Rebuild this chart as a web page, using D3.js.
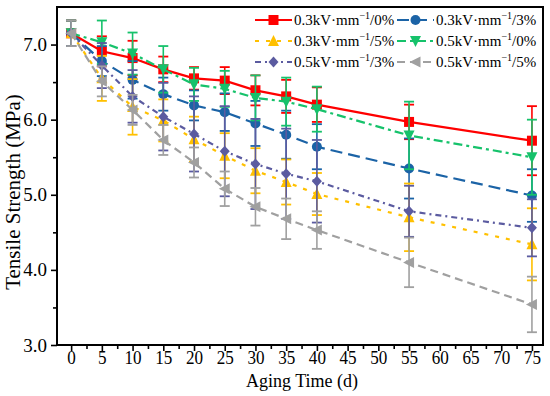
<!DOCTYPE html>
<html>
<head>
<meta charset="utf-8">
<script src="https://cdn.jsdelivr.net/npm/d3@7"></script>
<style>
  html, body { margin: 0; padding: 0; background: #fff; }
  svg { display: block; font-family: "Liberation Serif", "Times New Roman", serif; }
</style>
</head>
<body>
<div id="chart"></div>
<script>
// Aging days shared by every series
const days = [0, 5, 10, 15, 20, 25, 30, 35, 40, 55, 75];

// Mean tensile strength (MPa) per series
const red0 = [7.15, 6.91, 6.82, 6.67, 6.55, 6.52, 6.39, 6.31, 6.20, 5.97, 5.72];
const blue3 = [7.15, 6.78, 6.53, 6.34, 6.19, 6.10, 5.95, 5.80, 5.64, 5.35, 4.99];
const yellow5 = [7.15, 6.55, 6.17, 5.99, 5.74, 5.52, 5.32, 5.17, 5.01, 4.70, 4.34];
const green0 = [7.15, 7.03, 6.88, 6.67, 6.47, 6.41, 6.29, 6.24, 6.14, 5.79, 5.50];
const purple3 = [7.15, 6.72, 6.31, 6.04, 5.81, 5.58, 5.41, 5.28, 5.18, 4.78, 4.56];
const gray5 = [7.15, 6.51, 6.13, 5.73, 5.43, 5.08, 4.84, 4.68, 4.53, 4.10, 3.54];

// Error bar half-widths (MPa)
const red0Err = [0.17, 0.20, 0.23, 0.17, 0.15, 0.18, 0.20, 0.22, 0.23, 0.23, 0.46];
const blue3Err = [0.17, 0.20, 0.25, 0.22, 0.20, 0.25, 0.30, 0.32, 0.30, 0.40, 0.35];
const yellow5Err = [0.17, 0.30, 0.37, 0.28, 0.30, 0.30, 0.30, 0.30, 0.28, 0.45, 0.48];
const green0Err = [0.17, 0.29, 0.28, 0.31, 0.22, 0.24, 0.30, 0.32, 0.30, 0.45, 0.50];
const purple3Err = [0.17, 0.30, 0.35, 0.45, 0.50, 0.60, 0.60, 0.60, 0.55, 0.34, 0.38];
const gray5Err = [0.17, 0.20, 0.20, 0.20, 0.20, 0.23, 0.25, 0.27, 0.25, 0.33, 0.37];

const seriesLabels = ['0.3', '0.3', '0.3', '0.5', '0.5', '0.5'];
const seriesPct = ['0%', '3%', '5%', '0%', '3%', '5%'];

const xTicks = d3.range(0, 76, 5);
const yTicks = [3.0, 4.0, 5.0, 6.0, 7.0];

(function(){
  const width = 550, height = 396;
  const frame = {left: 57, right: 543, top: 7, bottom: 345};
  const serif = '"Liberation Serif", "Times New Roman", serif';

  const svg = d3.select('#chart').append('svg')
    .attr('width', width).attr('height', height);

  const x = d3.scaleLinear().domain([-2.3, 76.8]).range([frame.left, frame.right]);
  const y = d3.scaleLinear().domain([3.0, 7.5]).range([frame.bottom, frame.top]);

  // Series styles: colour, dash pattern, marker symbol
  const series = [
    {vals: red0, err: red0Err, color: '#FF0000', dash: null, sym: 'square'},
    {vals: blue3, err: blue3Err, color: '#1B63A6', dash: '12,6', sym: 'circle'},
    {vals: yellow5, err: yellow5Err, color: '#FFC000', dash: '4,7', sym: 'triUp'},
    {vals: green0, err: green0Err, color: '#16C26B', dash: '9,4,3,4', sym: 'triDown'},
    {vals: purple3, err: purple3Err, color: '#5B5BA0', dash: '6,4,2,4', sym: 'diamond'},
    {vals: gray5, err: gray5Err, color: '#A0A0A0', dash: '8,5', sym: 'triLeft'}
  ].map((s, i) => Object.assign(s, {kv: seriesLabels[i], pct: seriesPct[i]}));

  function marker(g, sym, color, cx, cy){
    const r = 5;
    let path;
    if(sym === 'square') path = `M${cx-r},${cy-r}h${2*r}v${2*r}h${-2*r}Z`;
    else if(sym === 'circle') { g.append('circle').attr('cx', cx).attr('cy', cy).attr('r', r).attr('fill', color); return; }
    else if(sym === 'triUp') path = `M${cx},${cy-r-1}L${cx+r+0.5},${cy+r}L${cx-r-0.5},${cy+r}Z`;
    else if(sym === 'triDown') path = `M${cx},${cy+r+1}L${cx+r+0.5},${cy-r}L${cx-r-0.5},${cy-r}Z`;
    else if(sym === 'diamond') path = `M${cx},${cy-r-0.5}L${cx+r},${cy}L${cx},${cy+r+0.5}L${cx-r},${cy}Z`;
    else if(sym === 'triLeft') path = `M${cx-r-1},${cy}L${cx+r},${cy-r-0.5}L${cx+r},${cy+r+0.5}Z`;
    g.append('path').attr('d', path).attr('fill', color);
  }

  // Axes
  const xAxis = svg.append('g').attr('transform', `translate(0,${frame.bottom})`)
    .call(d3.axisBottom(x).tickValues(xTicks).tickSize(6).tickPadding(0).tickFormat(d3.format('d')));
  const xMinor = svg.append('g').attr('transform', `translate(0,${frame.bottom})`)
    .call(d3.axisBottom(x).tickValues(d3.range(2.5, 76, 5)).tickSize(4).tickFormat(''));
  const yAxis = svg.append('g').attr('transform', `translate(${frame.left},0)`)
    .call(d3.axisLeft(y).tickValues(yTicks).tickSize(6).tickPadding(4).tickFormat(d3.format('.1f')));
  const yMinor = svg.append('g').attr('transform', `translate(${frame.left},0)`)
    .call(d3.axisLeft(y).tickValues([3.5, 4.5, 5.5, 6.5]).tickSize(4).tickFormat(''));

  [xAxis, xMinor, yAxis, yMinor].forEach(a => {
    a.attr('font-family', serif);
    a.select('.domain').remove();
    a.selectAll('line').attr('stroke', '#000').attr('stroke-width', 1.6);
    a.selectAll('text').attr('font-size', 19).attr('fill', '#000');
  });
  xAxis.selectAll('text').attr('transform', 'scale(0.9,1)');

  // Plot frame
  svg.append('rect')
    .attr('x', frame.left).attr('y', frame.top)
    .attr('width', frame.right - frame.left).attr('height', frame.bottom - frame.top)
    .attr('fill', 'none').attr('stroke', '#000').attr('stroke-width', 2);

  // Axis titles
  svg.append('text')
    .attr('x', (frame.left + frame.right) / 2 + 2).attr('y', 387)
    .attr('text-anchor', 'middle').attr('font-size', 18).text('Aging Time (d)');
  svg.append('text')
    .attr('transform', `translate(20,${(frame.top + frame.bottom) / 2 + 16}) rotate(-90)`)
    .attr('text-anchor', 'middle').attr('font-size', 21).text('Tensile Strength (MPa)');

  const plot = svg.append('g');

  const line = d3.line().x((d, i) => x(days[i])).y(d => y(d));

  series.forEach(s => {
    const g = plot.append('g');
    // error bars
    s.vals.forEach((v, i) => {
      const cx = x(days[i]);
      const top = y(v + s.err[i]), bot = y(v - s.err[i]);
      g.append('line').attr('x1', cx).attr('x2', cx).attr('y1', top).attr('y2', bot)
        .attr('stroke', s.color).attr('stroke-width', 1.6);
      [top, bot].forEach(cy => g.append('line')
        .attr('x1', cx - 5).attr('x2', cx + 5).attr('y1', cy).attr('y2', cy)
        .attr('stroke', s.color).attr('stroke-width', 1.8));
    });
    g.append('path').datum(s.vals).attr('d', line)
      .attr('fill', 'none').attr('stroke', s.color).attr('stroke-width', 2.2)
      .attr('stroke-dasharray', s.dash);
    s.vals.forEach((v, i) => marker(g, s.sym, s.color, x(days[i]), y(v)));
  });

  // Legend: 3 rows x 2 columns
  const legend = svg.append('g');
  const colX = [255, 397];
  const rowY = [20, 41, 62];
  series.forEach((s, i) => {
    const cx = colX[i % 2], cy = rowY[Math.floor(i / 2)];
    const g = legend.append('g');
    g.append('line').attr('x1', cx).attr('x2', cx + 37).attr('y1', cy).attr('y2', cy)
      .attr('stroke', s.color).attr('stroke-width', 2.2).attr('stroke-dasharray', s.dash);
    marker(g, s.sym, s.color, cx + 18.5, cy);
    const t = g.append('text').attr('x', cx + 39).attr('y', cy + 5).attr('font-size', 15);
    t.append('tspan').text(`${s.kv}kV·mm`);
    t.append('tspan').attr('dy', -6).attr('font-size', 10).text('−1');
    t.append('tspan').attr('dy', 6).text(`/${s.pct}`);
  });
})();
</script>
</body>
</html>
